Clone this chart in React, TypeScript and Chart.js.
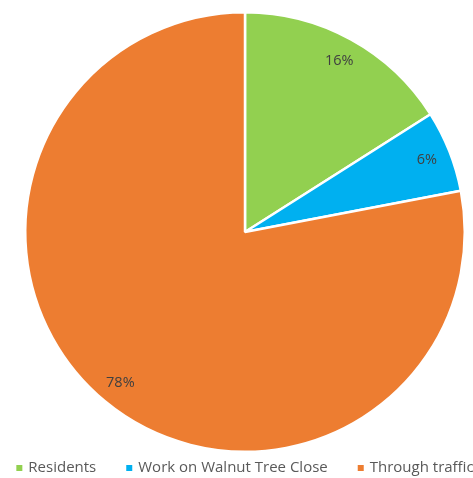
import React, { useEffect, useRef } from "react";
import { Chart, registerables } from "chart.js";

Chart.register(...registerables);

const categories = ["Residents", "Work on Walnut Tree Close", "Through traffic"];
const values = [16, 6, 78];
const colors = ["#92D050", "#00B0F0", "#ED7D31"];

const FONT = "'Open Sans', 'Noto Sans', sans-serif";

const labelPlugin = {
  id: "sliceLabels",
  afterDatasetsDraw(chart: any) {
    const ctx = chart.ctx;
    const meta = chart.getDatasetMeta(0);
    ctx.save();
    ctx.font = `14.5px ${FONT}`;
    ctx.fillStyle = "#404040";
    ctx.textAlign = "center";
    ctx.textBaseline = "middle";
    meta.data.forEach((arc: any, i: number) => {
      const { x, y, startAngle, endAngle, outerRadius } = arc.getProps(
        ["x", "y", "startAngle", "endAngle", "outerRadius"],
        true
      );
      const mid = (startAngle + endAngle) / 2;
      const r = outerRadius * 0.89;
      ctx.fillText(values[i] + "%", x + Math.cos(mid) * r, y + Math.sin(mid) * r);
    });
    ctx.restore();
  },
};

const legendPlugin = {
  id: "bottomLegend",
  afterDraw(chart: any) {
    const ctx = chart.ctx;
    const meta = chart.getDatasetMeta(0);
    const cx = meta.data[0] ? meta.data[0].x : chart.width / 2;
    const box = 6;
    const boxGap = 6;
    const itemGap = 30;
    const yMid = chart.chartArea.bottom + 15;
    ctx.save();
    ctx.font = `15px ${FONT}`;
    ctx.textBaseline = "middle";
    ctx.textAlign = "left";
    const widths = categories.map((c) => box + boxGap + ctx.measureText(c).width);
    const total = widths.reduce((a, b) => a + b, 0) + itemGap * (categories.length - 1);
    let x = cx - total / 2;
    categories.forEach((c, i) => {
      ctx.fillStyle = colors[i];
      ctx.fillRect(x, yMid - box / 2, box, box);
      ctx.fillStyle = "#595959";
      ctx.fillText(c, x + box + boxGap, yMid);
      x += widths[i] + itemGap;
    });
    ctx.restore();
  },
};

export default function App() {
  const ref = useRef<HTMLCanvasElement>(null);
  useEffect(() => {
    document.body.style.margin = "0";
    const chart = new Chart(ref.current!, {
      type: "pie",
      data: {
        labels: categories,
        datasets: [
          {
            data: values,
            backgroundColor: colors,
            borderColor: "#ffffff",
            borderWidth: 2.5,
          },
        ],
      },
      options: {
        responsive: false,
        animation: false,
        layout: { padding: { left: 17, top: 11, right: 0, bottom: 25 } },
        plugins: {
          tooltip: { enabled: false },
          legend: { display: false },
        },
      },
      plugins: [labelPlugin, legendPlugin],
    });
    return () => chart.destroy();
  }, []);
  return (
    <div style={{ width: 473, height: 478 }}>
      <canvas ref={ref} width={473} height={478} />
    </div>
  );
}
